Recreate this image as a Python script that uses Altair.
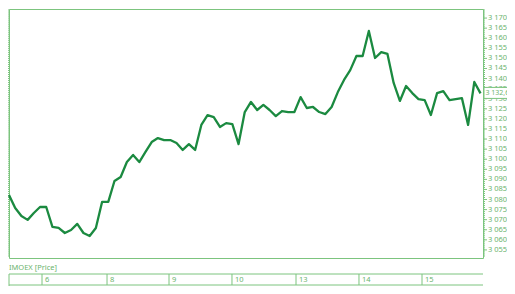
import altair as alt
import pandas as pd

# hourly closes of IMOEX
prices = [3082.2, 3075.8, 3071.8, 3069.9, 3073.3, 3076.3, 3076.3, 3066.4, 3065.9, 3063.4,
          3064.9, 3067.9, 3063.4, 3061.9, 3065.9, 3078.8, 3078.8, 3089.2, 3091.2, 3098.6,
          3102.1, 3098.6, 3103.6, 3108.5, 3110.5, 3109.5, 3109.5, 3108.0, 3104.6, 3107.5,
          3104.6, 3117.0, 3121.9, 3120.9, 3116.0, 3117.9, 3117.4, 3107.5, 3123.4, 3128.4,
          3124.4, 3126.9, 3124.4, 3121.4, 3123.9, 3123.4, 3123.4, 3130.8, 3125.4, 3125.9,
          3123.4, 3122.4, 3125.9, 3133.3, 3139.3, 3144.2, 3151.2, 3151.2, 3163.6, 3150.2,
          3153.1, 3152.2, 3137.8, 3128.9, 3136.3, 3132.8, 3129.8, 3129.3, 3121.9, 3132.8,
          3133.8, 3129.3, 3129.8, 3130.3, 3117.0, 3138.3, 3132.63]
bar_index = list(range(len(prices)))

day_labels = ["6", "8", "9", "10", "13", "14", "15"]
day_starts = [5.32, 15.8, 25.79, 35.94, 46.26, 56.41, 66.57]

last_label = "3 132,63"
series_label = "IMOEX [Price]"
minor_ticks = list(range(3052, 3175))
major_ticks = list(range(3055, 3175, 5))
major_labels = ["3 " + str(v)[1:] for v in major_ticks]

LINE = "#1b8a40"
BORDER = "#7cc47e"
TEXT = "#6cb46e"
FONT = "Noto Sans"

df = pd.DataFrame({"i": bar_index, "p": prices})
days = pd.DataFrame({"i": day_starts, "lab": day_labels})
last = pd.DataFrame({"i": [bar_index[-1]], "p": [prices[-1]], "lab": [last_label]})
one = pd.DataFrame({"lab": [series_label]})
minor_df = pd.DataFrame({"p": minor_ticks})
major_df = pd.DataFrame({"p": major_ticks, "lab": major_labels})

W, H = 474, 249
xs = alt.Scale(domain=[0, 76.4], nice=False, zero=False)
ys = alt.Scale(domain=[3051.0, 3174.5], nice=False, zero=False)
x_enc = alt.X("i:Q", scale=xs, axis=None)
y_enc = alt.Y("p:Q", scale=ys, axis=None)

line = alt.Chart(df).mark_line(color=LINE, strokeWidth=2.3, strokeJoin="round").encode(x=x_enc, y=y_enc)

minor_r = alt.Chart(minor_df).mark_rule(color=BORDER, strokeWidth=1).encode(
    x=alt.value(W), x2=alt.value(W + 2), y=y_enc
)
minor_l = alt.Chart(minor_df).mark_rule(color=BORDER, strokeWidth=1).encode(
    x=alt.value(-1), x2=alt.value(1), y=y_enc
)
major_r = alt.Chart(major_df).mark_rule(color=BORDER, strokeWidth=1).encode(
    x=alt.value(W), x2=alt.value(W + 4), y=y_enc
)
major_t = alt.Chart(major_df).mark_text(
    align="left", baseline="middle", font=FONT, fontSize=7.5, color=TEXT
).encode(x=alt.value(W + 5), y=y_enc, text="lab:N")

box = alt.Chart(last).mark_rect(fill="white", stroke=BORDER, strokeWidth=1, yOffset=-6, y2Offset=5).encode(
    x=alt.value(W + 1), x2=alt.value(W + 60), y=y_enc, y2="p:Q"
)
box_text = alt.Chart(last).mark_text(
    align="left", baseline="middle", font=FONT, fontSize=7, color=TEXT
).encode(x=alt.value(W + 2.5), y=y_enc, text="lab:N")

strip_top = alt.Chart(one).mark_rule(color=BORDER, strokeWidth=1).encode(
    x=alt.value(0), x2=alt.value(W), y=alt.value(265)
)
strip_bottom = alt.Chart(one).mark_rule(color=BORDER, strokeWidth=1).encode(
    x=alt.value(0), x2=alt.value(W), y=alt.value(276)
)
strip_left = alt.Chart(one).mark_rule(color=BORDER, strokeWidth=1).encode(
    x=alt.value(0), y=alt.value(265), y2=alt.value(290)
)
series_text = alt.Chart(one).mark_text(
    align="left", baseline="middle", font=FONT, fontSize=7.5, color=TEXT
).encode(x=alt.value(0), y=alt.value(259), text="lab:N")

day_rules = alt.Chart(days).mark_rule(color=BORDER, strokeWidth=1).encode(
    x=x_enc, y=alt.value(265), y2=alt.value(276)
)
day_text = alt.Chart(days).mark_text(
    align="left", baseline="middle", dx=3, font=FONT, fontSize=7.5, color=TEXT
).encode(x=x_enc, y=alt.value(271), text="lab:N")

chart = alt.layer(
    minor_r, minor_l, major_r, major_t, line, box, box_text,
    strip_top, strip_bottom, strip_left, series_text, day_rules, day_text
).properties(
    width=W,
    height=H,
    autosize=alt.AutoSizeParams(type="none"),
    padding={"left": 1, "top": 1, "right": 24, "bottom": 28},
).configure_view(stroke=BORDER, strokeWidth=1)

chart.save("out.html", embed_options={"renderer": "svg", "actions": False})
